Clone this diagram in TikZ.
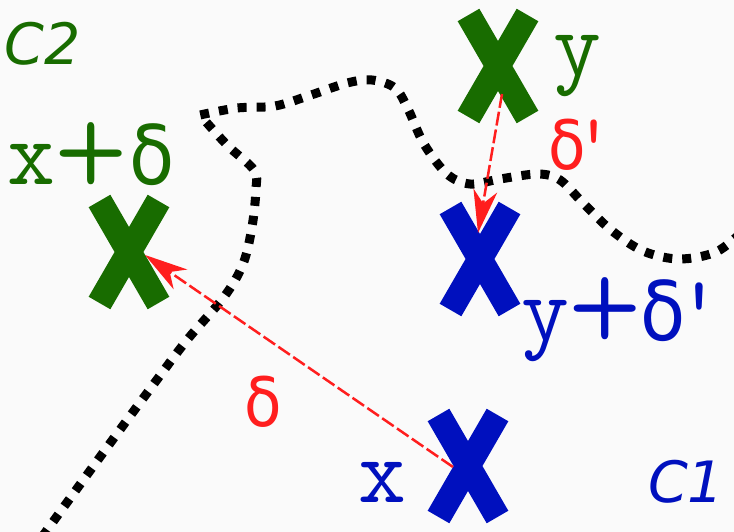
\documentclass[tikz,border=0pt]{standalone}
\usepackage{fontspec}
\usetikzlibrary{arrows.meta,shapes.misc,calc}
\newfontfamily\dfont{DejaVu Sans}
\newfontfamily\classfont{DejaVu Sans}
\newfontfamily\plusfont{Latin Modern Mono Light}
\newcommand\bigplus{\raisebox{-11.5pt}{\fontsize{140}{140}\selectfont\plusfont +}}
\newcommand\bigdelta{\scalebox{0.9}[1]{\dfont\fontsize{82}{82}\selectfont δ}}
\newcommand\reddelta{\scalebox{0.9}[1]{\dfont\fontsize{68}{68}\selectfont δ}}
\definecolor{bgc}{HTML}{FAFAFA}
\definecolor{grn}{HTML}{186C00}
\definecolor{blu}{HTML}{0010BE}
\definecolor{rd}{HTML}{FF1E1E}
\begin{document}
\begin{tikzpicture}[x=1pt,y=-1pt,
  crossmark/.style={cross out, draw=#1, line width=25pt, minimum width=59pt, minimum height=102pt, inner sep=0pt, outer sep=0pt},
  bigtext/.style={anchor=base west, inner sep=0pt, outer sep=0pt, font=\ttfamily\fontsize{93}{93}\selectfont, text=#1},
  redtext/.style={anchor=base west, inner sep=0pt, outer sep=0pt, font=\ttfamily\fontsize{80}{80}\selectfont, text=rd},
  classtext/.style={anchor=base west, inner sep=0pt, outer sep=0pt, font=\classfont\itshape\fontsize{57}{57}\selectfont, text=#1},
  dotline/.style={line width=9pt, dash pattern=on 9pt off 10pt, black},
  arr/.style={draw=rd, line width=2.5pt, dash pattern=on 14pt off 4pt, -{Stealth[length=43pt,width=24pt,inset=13pt]}}
]
\fill[bgc] (0,0) rectangle (734,532);
\useasboundingbox (0,0) rectangle (734,532);

% dotted boundary
\draw[dotline] plot[smooth, tension=0.55] coordinates {(42,537) (100,457) (153,385) (187,340) (224,297) (243,264) (252,227) (256,189) (254,170) (227,145) (200,115)}
  -- plot[smooth, tension=0.55] coordinates {(200,115) (237,108) (275,106) (311,95) (347,83) (372,80) (395,88) (408,109) (424,144) (447,174) (470,184) (500,179) (538,174) (560,180) (583,203) (611,230) (643,251) (679,259) (716,252) (742,232)};

% crosses
\node[crossmark=grn] (gy) at (498,66) {};
\node[crossmark=blu] (by) at (480,259) {};
\node[crossmark=grn] (gx) at (129,252) {};
\node[crossmark=blu] (bx) at (468,466) {};

% arrows
\draw[arr] ([shift={(-15,1)}]bx.center) -- ([shift={(16,3)}]gx.center);
\draw[arr] ([shift={(4,28)}]gy.center) -- ([shift={(-2,-26)}]by.center);

% labels
\node[classtext=grn] (c2) at (5,65) {C2};
\node[classtext=blu] (c1) at (648,502) {C1};
\node[bigtext=grn] (lxd) at (8,185) {x\kern-1pt\bigplus\kern1pt\bigdelta};
\node[bigtext=grn] (ly) at (553,76) {y};
\node[bigtext=blu] (lyd) at (521,340) {y\bigplus\kern-2pt\bigdelta\kern-10pt'};
\node[bigtext=blu] (lx) at (358,502) {x};
\node[redtext] (ldp) at (548,170) {\reddelta\kern-12pt'};
\node[redtext] (ld) at (244,426) {\reddelta};
\end{tikzpicture}
\end{document}
